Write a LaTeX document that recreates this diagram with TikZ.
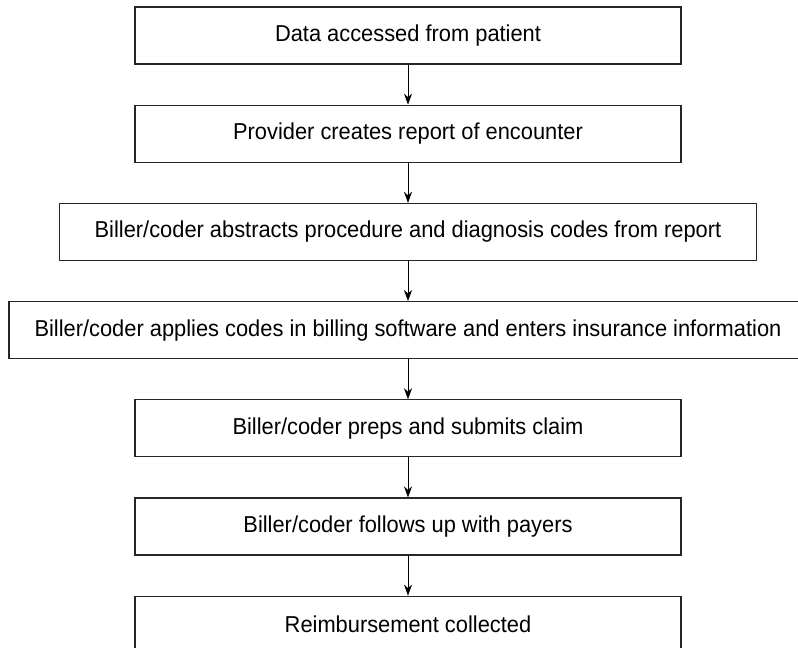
\documentclass[tikz,border=0pt]{standalone}
\usepackage{fontspec}
\setmainfont{Liberation Sans}[FakeStretch=0.95]
\usetikzlibrary{positioning,arrows.meta}
\tikzset{paso/.style={rectangle, draw=black!85, line width=1.2pt, minimum height=57pt,
  minimum width=546pt, inner sep=0pt, font=\fontsize{23}{27}\selectfont}}
\begin{document}
\begin{tikzpicture}[x=1pt, y=1pt, ->, >={Stealth[length=11pt,width=8pt]}, line width=0.6pt, node distance=40pt]
\useasboundingbox (0,0) rectangle (798,-648);
% Nodos
\node [paso] (A) at (408,-35.5) {Data accessed from patient};
\node [paso, below=of A] (B) {Provider creates report of encounter};
\node [paso, below=of B, minimum width=697pt] (C) {Biller/coder abstracts procedure and diagnosis codes from report};
\node [paso, below=of C, minimum width=798pt] (D) {Biller/coder applies codes in billing software and enters insurance information};
\node [paso, below=of D] (E) {Biller/coder preps and submits claim};
\node [paso, below=of E] (F) {Biller/coder follows up with payers};
\node [paso, below=of F] (G) {Reimbursement collected};
% Flechas
\path (A) edge (B);
\path (B) edge (C);
\path (C) edge (D);
\path (D) edge (E);
\path (E) edge (F);
\path (F) edge (G);
\end{tikzpicture}
\end{document}
